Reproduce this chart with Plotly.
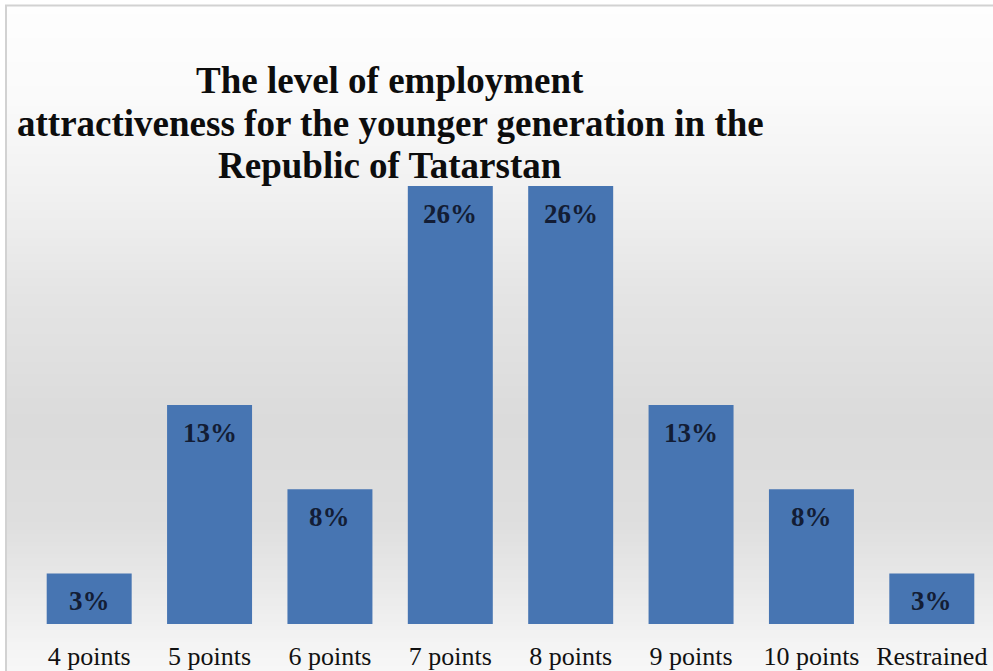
import plotly.graph_objects as go

# Survey results: share of respondents per attractiveness score
categories = ["4 points", "5 points", "6 points", "7 points",
              "8 points", "9 points", "10 points", "Restrained"]
shares = [3, 13, 8, 26, 26, 13, 8, 3]
labels = ["3%", "13%", "8%", "26%", "26%", "13%", "8%", "3%"]
title_lines = ["The level of employment",
               "attractiveness for the younger generation in the",
               "Republic of Tatarstan"]

W, H = 993, 671
ML, MR, MT, MB = 29, 1, 186, 47
PW = W - ML - MR
PH = H - MT - MB


def px_x(px):
    return (px - ML) / PW


def px_y(py):
    return (H - MB - py) / PH


# vertical grey gradient of the chart area (pixel row -> grey level)
stops = [(0, 254), (100, 250), (190, 241), (300, 228), (420, 219),
         (520, 222), (580, 232), (640, 243), (671, 247)]


def grey_at(py):
    for (y0, g0), (y1, g1) in zip(stops[:-1], stops[1:]):
        if y0 <= py <= y1:
            t = (py - y0) / (y1 - y0)
            return round(g0 + (g1 - g0) * t)
    return stops[-1][1]


shapes = []
step = 4
top = 6
for py in range(top, H, step):
    g = grey_at(py + step / 2)
    shapes.append(dict(type="rect", xref="paper", yref="paper", layer="below",
                       x0=px_x(7), x1=px_x(W + 5), y0=px_y(py + step), y1=px_y(py),
                       fillcolor=f"rgb({g},{g},{g})", line=dict(width=0)))
# chart frame
shapes.append(dict(type="rect", xref="paper", yref="paper", layer="below",
                   x0=px_x(6), x1=px_x(W + 10), y0=px_y(H + 10), y1=px_y(5.5),
                   fillcolor="rgba(0,0,0,0)", line=dict(color="#d2d2d2", width=2)))

fig = go.Figure()
fig.add_trace(go.Bar(
    x=categories, y=shares,
    marker=dict(color="#4775b2", line=dict(width=0)),
    width=0.706,
    hoverinfo="skip",
))

annotations = []
for c, v, t in zip(categories, shares, labels):
    annotations.append(dict(x=c, y=v, xref="x", yref="y", text=t,
                            showarrow=False, yanchor="top", yshift=-11,
                            font=dict(family="Liberation Serif", size=27,
                                      color="#131d35", weight="bold")))

title_y = [80, 123, 165]
for line, py in zip(title_lines, title_y):
    annotations.append(dict(x=px_x(390), y=px_y(py), xref="paper", yref="paper",
                            text=f"<b>{line}</b>", showarrow=False,
                            xanchor="center", yanchor="middle",
                            font=dict(family="Liberation Serif", size=37,
                                      color="#0d0d0d")))

fig.update_layout(
    width=W, height=H,
    margin=dict(l=ML, r=MR, t=MT, b=MB, pad=0),
    paper_bgcolor="white",
    plot_bgcolor="rgba(0,0,0,0)",
    showlegend=False,
    shapes=shapes,
    annotations=annotations,
    bargap=0.294,
    xaxis=dict(range=[-0.5, 7.5], showgrid=False, zeroline=False, showline=False,
               ticks="", ticklabelstandoff=14,
               tickfont=dict(family="Liberation Serif", size=26, color="#111111"),
               fixedrange=True),
    yaxis=dict(range=[0, 26], visible=False, fixedrange=True),
)

fig.write_html("out.html")
